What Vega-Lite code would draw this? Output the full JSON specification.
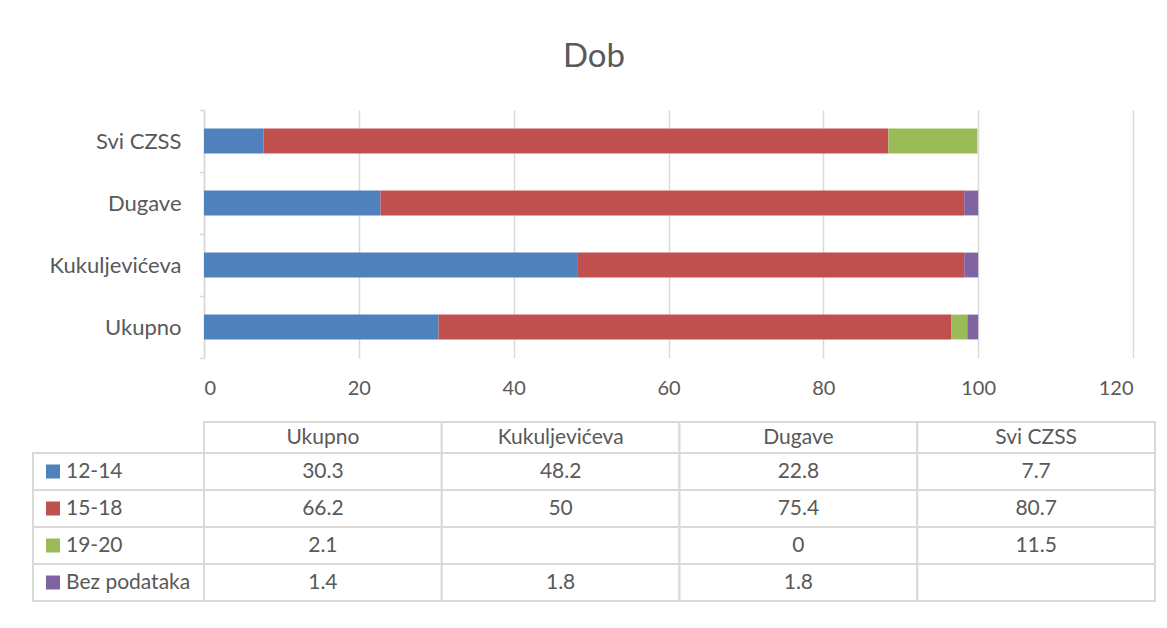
{
  "$schema": "https://vega.github.io/schema/vega-lite/v6.json",
  "padding": {"left": 32, "top": 41, "right": 5, "bottom": 5},
  "background": "white",
  "config": {
    "view": {"stroke": null},
    "font": "Lato",
    "text": {"font": "Lato"}
  },
  "title": {"text": "Dob", "fontSize": 33, "font": "Lato", "fontWeight": "normal", "color": "#595959", "anchor": "middle", "offset": 25},
  "datasets": {
    "vals": [
      {"loc": "Ukupno", "age": "12-14", "value": 30.3},
      {"loc": "Ukupno", "age": "15-18", "value": 66.2},
      {"loc": "Ukupno", "age": "19-20", "value": 2.1},
      {"loc": "Ukupno", "age": "Bez podataka", "value": 1.4},
      {"loc": "Kukuljevićeva", "age": "12-14", "value": 48.2},
      {"loc": "Kukuljevićeva", "age": "15-18", "value": 50},
      {"loc": "Kukuljevićeva", "age": "19-20", "value": null},
      {"loc": "Kukuljevićeva", "age": "Bez podataka", "value": 1.8},
      {"loc": "Dugave", "age": "12-14", "value": 22.8},
      {"loc": "Dugave", "age": "15-18", "value": 75.4},
      {"loc": "Dugave", "age": "19-20", "value": 0},
      {"loc": "Dugave", "age": "Bez podataka", "value": 1.8},
      {"loc": "Svi CZSS", "age": "12-14", "value": 7.7},
      {"loc": "Svi CZSS", "age": "15-18", "value": 80.7},
      {"loc": "Svi CZSS", "age": "19-20", "value": 11.5},
      {"loc": "Svi CZSS", "age": "Bez podataka", "value": null}
    ],
    "locs": [
      {"loc": "Ukupno"}, {"loc": "Kukuljevićeva"}, {"loc": "Dugave"}, {"loc": "Svi CZSS"}
    ],
    "ages": [
      {"age": "12-14"}, {"age": "15-18"}, {"age": "19-20"}, {"age": "Bez podataka"}
    ]
  },
  "spacing": 23,
  "vconcat": [
    {
      "width": 929,
      "height": 248,
      "data": {"name": "vals"},
      "mark": {"type": "bar", "height": {"band": 0.4}},
      "encoding": {
        "y": {
          "field": "loc", "type": "nominal",
          "sort": ["Svi CZSS", "Dugave", "Kukuljevićeva", "Ukupno"],
          "scale": {"paddingInner": 0, "paddingOuter": 0},
          "axis": {
            "title": null, "tickBand": "extent", "ticks": true, "tickSize": 5,
            "tickColor": "#d9d9d9", "tickWidth": 1.5, "domainColor": "#d9d9d9", "domainWidth": 1.5,
            "labelFontSize": 22, "labelColor": "#595959", "labelPadding": 18, "labelFont": "Lato", "grid": false
          }
        },
        "x": {
          "field": "value", "type": "quantitative", "stack": "zero",
          "scale": {"domain": [0, 120], "nice": false},
          "axis": {
            "title": null, "values": [0, 20, 40, 60, 80, 100, 120], "domain": false, "ticks": false,
            "grid": true, "gridColor": "#d9d9d9", "gridWidth": 1.5,
            "labelFontSize": 20, "labelColor": "#595959", "labelPadding": 20, "labelFont": "Lato"
          }
        },
        "color": {
          "field": "age", "type": "nominal",
          "scale": {"domain": ["12-14", "15-18", "19-20", "Bez podataka"], "range": ["#4F81BD", "#C0504D", "#9BBB59", "#8064A2"]},
          "legend": null
        }
      }
    },
    {
      "width": 951,
      "height": 179,
      "resolve": {"scale": {"x": "independent", "y": "independent"}},
      "layer": [
        {
          "data": {"name": "locs"},
          "layer": [
            {
              "mark": {"type": "rect", "fill": "white", "stroke": "#d9d9d9", "strokeWidth": 2},
              "encoding": {
                "x": {"field": "loc", "type": "nominal", "scale": {"domain": ["Ukupno", "Kukuljevićeva", "Dugave", "Svi CZSS"], "range": [0, 951], "paddingInner": 0, "paddingOuter": 0}, "axis": null},
                "y": {"datum": "hdr", "type": "nominal", "scale": {"domain": ["hdr"], "range": [0, 31], "paddingInner": 0, "paddingOuter": 0}, "axis": null}
              }
            },
            {
              "mark": {"type": "text", "fontSize": 21, "color": "#595959", "font": "Lato"},
              "encoding": {
                "x": {"field": "loc", "type": "nominal", "scale": {"domain": ["Ukupno", "Kukuljevićeva", "Dugave", "Svi CZSS"], "range": [0, 951], "paddingInner": 0, "paddingOuter": 0}, "axis": null},
                "y": {"datum": "hdr", "type": "nominal", "scale": {"domain": ["hdr"], "range": [0, 31], "paddingInner": 0, "paddingOuter": 0}, "axis": null},
                "text": {"field": "loc", "type": "nominal"}
              }
            }
          ]
        },
        {
          "data": {"name": "ages"},
          "layer": [
            {
              "mark": {"type": "rect", "fill": "white", "stroke": "#d9d9d9", "strokeWidth": 2},
              "encoding": {
                "x": {"datum": "h", "type": "nominal", "scale": {"domain": ["h"], "range": [-171, 0], "paddingInner": 0, "paddingOuter": 0}, "axis": null},
                "y": {"field": "age", "type": "nominal", "scale": {"domain": ["12-14", "15-18", "19-20", "Bez podataka"], "range": [31, 179], "paddingInner": 0, "paddingOuter": 0}, "axis": null}
              }
            },
            {
              "mark": {"type": "point", "shape": "square", "filled": true, "opacity": 1, "size": 196},
              "encoding": {
                "x": {"datum": "h", "type": "nominal", "bandPosition": 0.117, "scale": {"domain": ["h"], "range": [-171, 0], "paddingInner": 0, "paddingOuter": 0}, "axis": null},
                "y": {"field": "age", "type": "nominal", "scale": {"domain": ["12-14", "15-18", "19-20", "Bez podataka"], "range": [31, 179], "paddingInner": 0, "paddingOuter": 0}, "axis": null},
                "color": {"field": "age", "type": "nominal", "legend": null}
              }
            },
            {
              "mark": {"type": "text", "fontSize": 21, "color": "#595959", "align": "left", "font": "Lato"},
              "encoding": {
                "x": {"datum": "h", "type": "nominal", "bandPosition": 0.193, "scale": {"domain": ["h"], "range": [-171, 0], "paddingInner": 0, "paddingOuter": 0}, "axis": null},
                "y": {"field": "age", "type": "nominal", "scale": {"domain": ["12-14", "15-18", "19-20", "Bez podataka"], "range": [31, 179], "paddingInner": 0, "paddingOuter": 0}, "axis": null},
                "text": {"field": "age", "type": "nominal"}
              }
            }
          ]
        },
        {
          "data": {"name": "vals"},
          "layer": [
            {
              "mark": {"type": "rect", "fill": "white", "stroke": "#d9d9d9", "strokeWidth": 2},
              "encoding": {
                "x": {"field": "loc", "type": "nominal", "scale": {"domain": ["Ukupno", "Kukuljevićeva", "Dugave", "Svi CZSS"], "range": [0, 951], "paddingInner": 0, "paddingOuter": 0}, "axis": null},
                "y": {"field": "age", "type": "nominal", "scale": {"domain": ["12-14", "15-18", "19-20", "Bez podataka"], "range": [31, 179], "paddingInner": 0, "paddingOuter": 0}, "axis": null}
              }
            },
            {
              "transform": [{"filter": "isValid(datum.value)"}],
              "mark": {"type": "text", "fontSize": 21, "color": "#595959", "font": "Lato"},
              "encoding": {
                "x": {"field": "loc", "type": "nominal", "scale": {"domain": ["Ukupno", "Kukuljevićeva", "Dugave", "Svi CZSS"], "range": [0, 951], "paddingInner": 0, "paddingOuter": 0}, "axis": null},
                "y": {"field": "age", "type": "nominal", "scale": {"domain": ["12-14", "15-18", "19-20", "Bez podataka"], "range": [31, 179], "paddingInner": 0, "paddingOuter": 0}, "axis": null},
                "text": {"field": "value", "type": "nominal"}
              }
            }
          ]
        }
      ]
    }
  ]
}
